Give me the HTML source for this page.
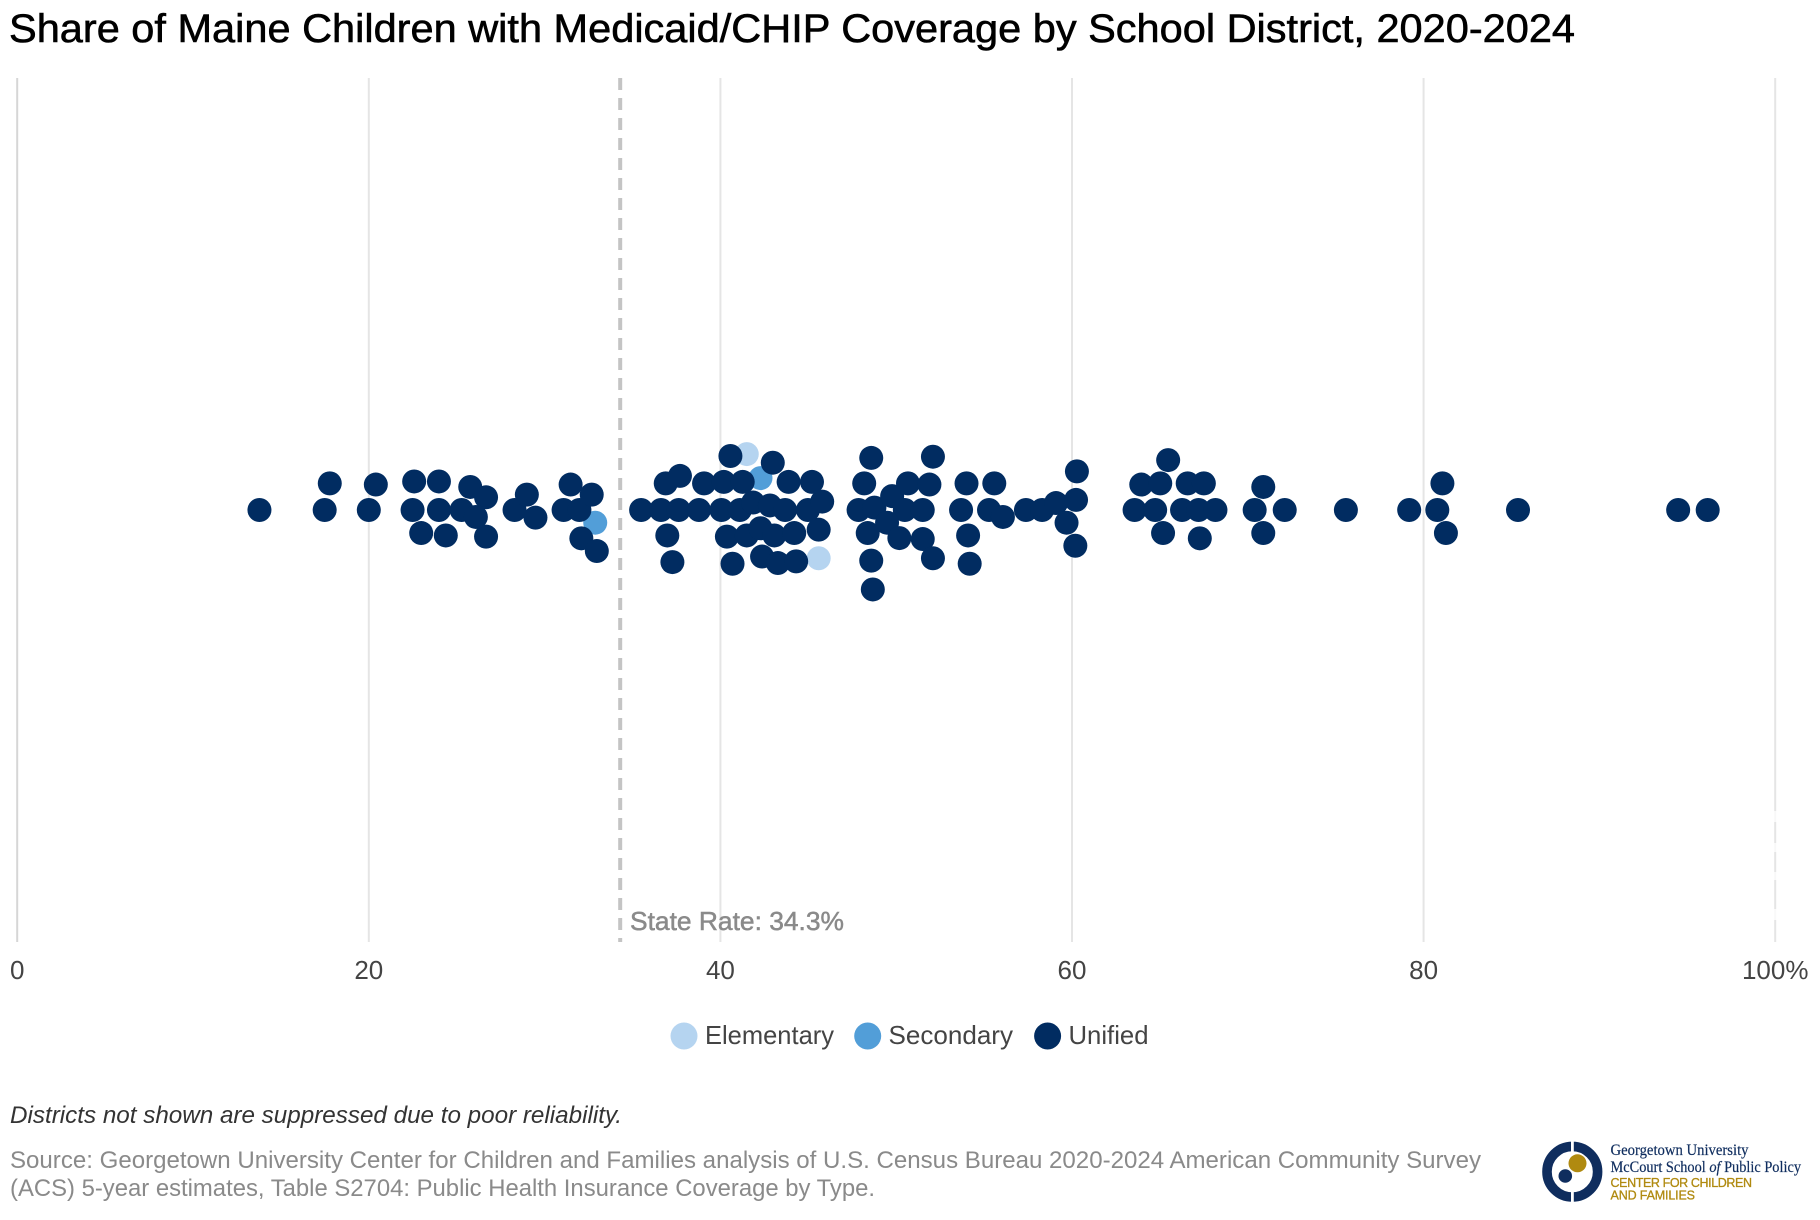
<!DOCTYPE html>
<html lang="en">
<head>
<meta charset="utf-8">
<title>Share of Maine Children with Medicaid/CHIP Coverage by School District, 2020-2024</title>
<style>
html,body{margin:0;padding:0;background:#fff;width:1820px;height:1220px;overflow:hidden}
svg{display:block}
text{font-family:"Liberation Sans",sans-serif}
</style>
</head>
<body>
<svg id="chart" xmlns="http://www.w3.org/2000/svg" width="1820" height="1220" viewBox="0 0 1820 1220">
  <text x="9" y="42" font-size="40" fill="#000" stroke="#000" stroke-width="0.6" textLength="1566" lengthAdjust="spacingAndGlyphs">Share of Maine Children with Medicaid/CHIP Coverage by School District, 2020-2024</text>
  <g id="grid"></g>
  <g fill="#fff" opacity="0.75">
    <rect x="1772" y="811" width="6" height="11"></rect>
    <rect x="1772" y="843" width="6" height="9"></rect>
    <rect x="1772" y="872" width="6" height="8"></rect>
    <rect x="1772" y="909" width="6" height="11"></rect>
  </g>
  <line id="state-line" y1="78" y2="942" stroke="#c4c4c4" stroke-width="4" stroke-dasharray="12 8"></line>
  <text x="630" y="930" font-size="26" fill="#8a8a8a" stroke="#8a8a8a" stroke-width="0.5" textLength="214" lengthAdjust="spacingAndGlyphs">State Rate: 34.3%</text>
  <g id="ticks"></g>
  <g id="dots"></g>

  <g>
    <g>
      <circle cx="684" cy="1036" r="13.5" fill="#b5d4f0"></circle>
      <text x="705" y="1044" font-size="26" fill="#444" textLength="129" lengthAdjust="spacingAndGlyphs">Elementary</text>
    </g>
    <g>
      <circle cx="867.7" cy="1036" r="13.5" fill="#529ed8"></circle>
      <text x="888.5" y="1044" font-size="26" fill="#444" textLength="124.5" lengthAdjust="spacingAndGlyphs">Secondary</text>
    </g>
    <g>
      <circle cx="1047.6" cy="1036" r="13.5" fill="#012c61"></circle>
      <text x="1068.5" y="1044" font-size="26" fill="#444" textLength="80" lengthAdjust="spacingAndGlyphs">Unified</text>
    </g>
  </g>

  <text x="10" y="1123" font-size="24" font-style="italic" fill="#333" textLength="612" lengthAdjust="spacingAndGlyphs">Districts not shown are suppressed due to poor reliability.</text>
  <text x="10" y="1168" font-size="24" fill="#8a8a8a" textLength="1471" lengthAdjust="spacingAndGlyphs">Source: Georgetown University Center for Children and Families analysis of U.S. Census Bureau 2020-2024 American Community Survey</text>
  <text x="10" y="1196" font-size="24" fill="#8a8a8a" textLength="865" lengthAdjust="spacingAndGlyphs">(ACS) 5-year estimates, Table S2704: Public Health Insurance Coverage by Type.</text>

  <g>
    <circle cx="1572.3" cy="1171.7" r="25.3" fill="none" stroke="#0f2d5e" stroke-width="9.6"></circle>
    <rect x="1571" y="1140" width="2.8" height="13" fill="#fff"></rect>
    <rect x="1571" y="1190" width="2.8" height="14" fill="#fff"></rect>
    <circle cx="1577.5" cy="1163.3" r="9" fill="#b08a10"></circle>
    <circle cx="1565.3" cy="1176" r="6.8" fill="#0f2d5e"></circle>
    <text x="1610.5" y="1155" font-size="16" fill="#0f2d5e" stroke="#0f2d5e" stroke-width="0.2" style="font-family:'Liberation Serif',serif" textLength="138" lengthAdjust="spacingAndGlyphs">Georgetown University</text>
    <text x="1610.5" y="1172" font-size="16" fill="#0f2d5e" stroke="#0f2d5e" stroke-width="0.2" style="font-family:'Liberation Serif',serif" textLength="190.5" lengthAdjust="spacingAndGlyphs">McCourt School <tspan font-style="italic">of</tspan> Public Policy</text>
    <text x="1610.5" y="1187" font-size="12.5" fill="#b08a10" stroke="#b08a10" stroke-width="0.3" textLength="141.5" lengthAdjust="spacing">CENTER FOR CHILDREN</text>
    <text x="1610.5" y="1199.5" font-size="12.5" fill="#b08a10" stroke="#b08a10" stroke-width="0.3" textLength="84.5" lengthAdjust="spacing">AND FAMILIES</text>
  </g>
</svg>

<script>
const tickValues = [0, 20, 40, 60, 80, 100];
const tickLabels = ["0", "20", "40", "60", "80", "100%"];
const stateRate = 34.3;

const elementaryValues = [41.50, 45.59];
const elementaryRows = [-2.33, 2.01];

const secondaryValues = [32.88, 42.28];
const secondaryRows = [0.53, -1.33];

const unifiedValues = [
  13.78, 17.78, 17.49, 20.40, 20.00, 22.58, 22.49, 23.99, 23.99, 22.98, 24.38, 25.28, 25.77, 26.67, 26.09, 26.67,
  28.29, 28.99, 29.48, 31.08, 31.48, 31.98, 32.68, 32.09, 32.97,
  35.49, 36.62, 37.63, 38.78, 40.06, 41.11, 41.86, 42.82, 43.68, 44.98, 45.79,
  36.89, 37.70, 39.07, 40.19, 41.27, 43.88, 45.21, 40.57, 42.98,
  36.98, 37.27, 40.37, 41.50, 42.28, 43.07, 44.20, 45.59, 40.69, 42.37, 43.27, 44.31,
  48.58, 48.18, 47.86, 48.76, 49.77, 50.67, 51.89, 52.09, 50.49, 51.51, 49.48, 48.38, 50.18, 51.51, 48.58, 52.09, 48.67,
  54.00, 55.58, 53.69, 55.28, 56.07, 54.09, 54.18, 57.38, 58.30, 59.09, 60.23, 60.28, 59.69, 60.19,
  63.94, 65.02, 65.47, 63.56, 64.73, 65.18, 66.58, 67.50, 66.26, 67.20, 67.27, 68.16,
  70.88, 70.39, 72.10, 70.88, 75.58, 79.18, 80.78, 81.07, 81.27, 85.37, 94.48, 96.16
];
const unifiedRows = [
  0, -1.11, 0, -1.06, 0, -1.19, 0, -1.19, 0, 0.96, 1.06, 0, -0.96, -0.53, 0.29, 1.11,
  0, -0.64, 0.32, 0, -1.06, 0, -0.64, 1.18, 1.71,
  0, 0, 0, 0, 0, 0, -0.31, -0.19, 0, 0, -0.35,
  -1.11, -1.42, -1.11, -1.17, -1.17, -1.17, -1.17, -2.25, -1.97,
  1.06, 2.17, 1.11, 1.06, 0.76, 1.06, 0.96, 0.82, 2.24, 1.94, 2.21, 2.14,
  -2.17, -1.11, 0, -0.10, -0.58, -1.11, -1.06, -2.22, 0, 0, 0.53, 0.96, 1.17, 1.21, 2.11, 2.01, 3.31,
  -1.11, -1.11, 0, 0, 0.29, 1.06, 2.24, 0, 0, -0.29, -0.42, -1.61, 0.53, 1.49,
  -1.06, -1.11, -2.08, 0, 0, 0.96, -1.11, -1.11, 0, 0, 1.18, 0,
  -0.96, 0, 0, 0.96, 0, 0, 0, -1.11, 0.96, 0, 0, 0
];

const SVG_NS = "http://www.w3.org/2000/svg";
const xAxis = (v) => 17.2 + v * 17.58;
const rowAxis = (r) => 510 + r * 24;

const gridGroup = document.getElementById("grid");
const tickGroup = document.getElementById("ticks");
tickValues.forEach((v, i) => {
  const line = document.createElementNS(SVG_NS, "line");
  
  
  line.setAttribute("x1", xAxis(v));
  line.setAttribute("x2", xAxis(v));
  line.setAttribute("y1", 78);
  line.setAttribute("y2", 942);
  line.setAttribute("stroke", v === 0 ? "#d6d6d6" : "#e5e5e5");
  line.setAttribute("stroke-width", 2);
  gridGroup.appendChild(line);

  const label = document.createElementNS(SVG_NS, "text");
  
  
  label.setAttribute("x", xAxis(v));
  label.setAttribute("y", 979);
  label.setAttribute("text-anchor", "middle");
  label.setAttribute("font-size", 26);
  label.setAttribute("fill", "#444");
  label.textContent = tickLabels[i];
  tickGroup.appendChild(label);
});

const stateLine = document.getElementById("state-line");
stateLine.setAttribute("x1", xAxis(stateRate));
stateLine.setAttribute("x2", xAxis(stateRate));

const dotGroup = document.getElementById("dots");
function drawSeries(values, rows, color, dotName) {
  values.forEach((v, i) => {
    const dot = document.createElementNS(SVG_NS, "circle");
    
    
    dot.setAttribute("cx", xAxis(v));
    dot.setAttribute("cy", rowAxis(rows[i]));
    dot.setAttribute("r", 12);
    dot.setAttribute("fill", color);
    dotGroup.appendChild(dot);
  });
}
drawSeries(elementaryValues, elementaryRows, "#b5d4f0", "elementary-district-dot");
drawSeries(secondaryValues, secondaryRows, "#529ed8", "secondary-district-dot");
drawSeries(unifiedValues, unifiedRows, "#012c61", "unified-district-dot");
</script>
</body>
</html>
